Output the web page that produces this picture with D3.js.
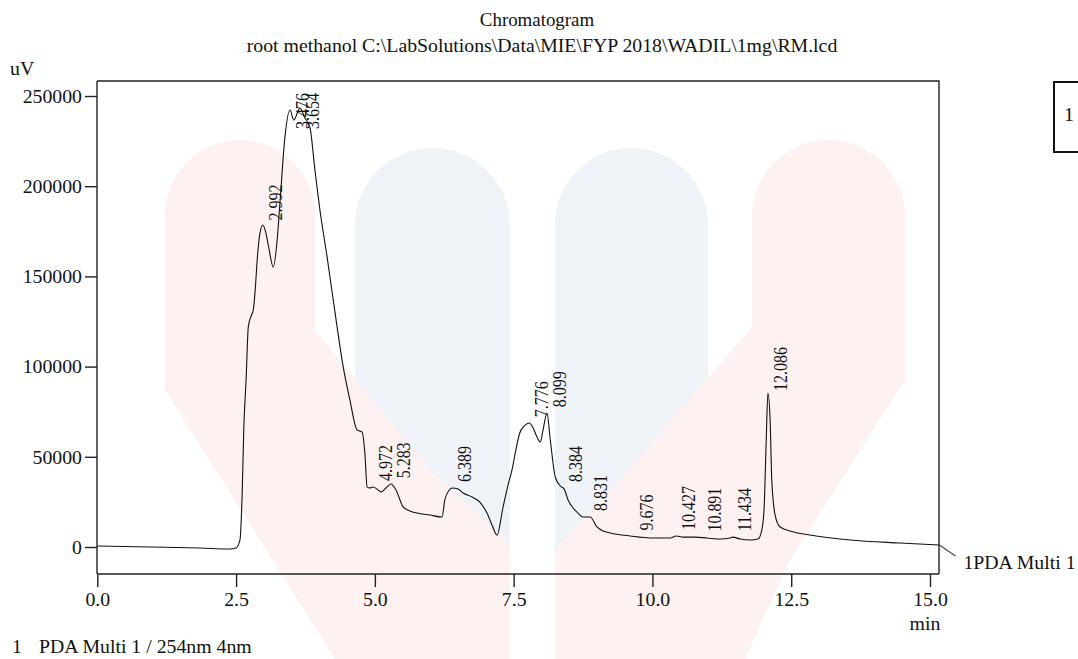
<!DOCTYPE html>
<html>
<head>
<meta charset="utf-8">
<script src="https://cdn.jsdelivr.net/npm/d3@7"></script>
<style>
  html, body { margin: 0; padding: 0; background: #fff; }
  svg { display: block; }
  text { font-family: "Liberation Serif", "Times New Roman", serif; fill: #111; }
</style>
</head>
<body>
<svg id="chart" width="1078" height="659"></svg>
<script>
// ---- data ----
const titleLines = ["Chromatogram", "root methanol C:\\LabSolutions\\Data\\MIE\\FYP 2018\\WADIL\\1mg\\RM.lcd"];
const yUnit = "uV";
const xUnit = "min";
const traceName = "1PDA Multi 1";
const footNote = ["1", "PDA Multi 1 / 254nm 4nm"];

const times = [0, 0.95, 1.85, 2.39, 2.50, 2.57, 2.61, 2.64, 2.68, 2.72, 2.77, 2.81, 2.85, 2.88, 2.93, 2.98, 3.03, 3.08, 3.17,
  3.24, 3.29, 3.38, 3.47, 3.54, 3.65, 3.74, 3.83, 3.92, 4.01, 4.14, 4.25, 4.32, 4.43, 4.55, 4.68, 4.77, 4.82, 4.86, 4.91,
  4.97, 5.04, 5.11, 5.20, 5.29, 5.38, 5.51, 5.63, 5.76, 5.99, 6.21, 6.26, 6.34, 6.39, 6.50, 6.59, 6.75, 6.89, 7.02, 7.11,
  7.20, 7.31, 7.40, 7.47, 7.54, 7.61, 7.71, 7.78, 7.85, 7.92, 7.98, 8.03, 8.10, 8.16, 8.25, 8.34, 8.41, 8.48, 8.57, 8.66,
  8.75, 8.88, 9.00, 9.11, 9.24, 9.60, 9.96, 10.32, 10.43, 10.55, 10.77, 10.98, 11.22, 11.40, 11.45, 11.58, 11.76, 11.90,
  11.97, 12.01, 12.05, 12.08, 12.12, 12.15, 12.21, 12.30, 12.48, 12.84, 13.56, 14.46, 15.17];
const signal = [550, 0, -550, -1100, -550, 3900, 30000, 66500, 92600, 122000, 128000, 131400, 145000, 159100, 174000, 178500, 175000, 167400, 155200,
  170200, 190700, 227300, 242200, 236700, 243300, 237800, 232800, 209000, 186800, 160700, 136900, 121900, 99800, 81500, 64900, 63700, 52100, 33300, 32700,
  33300, 32100, 30500, 32700, 34900, 31600, 22200, 20000, 18800, 17700, 16600, 26100, 31600, 32700, 32100, 29900, 27700, 24900, 18800, 12200,
  6650, 22200, 34400, 42700, 53800, 63200, 67600, 68700, 66000, 61000, 58200, 64900, 74300, 59300, 38800, 33800, 32100, 26100, 21600, 18800,
  16600, 16600, 11100, 8900, 7800, 6100, 5000, 5000, 6100, 5500, 5500, 5000, 4400, 5000, 5500, 4400, 3900, 4400,
  9400, 20500, 59300, 85400, 70400, 37100, 17700, 11100, 8900, 6650, 3900, 2200, 1100];

const peakLabels = ["2.992", "3.476", "3.654", "4.972", "5.283", "6.389", "7.776", "8.099", "8.384", "8.831",
  "9.676", "10.427", "10.891", "11.434", "12.086"];

const xTickValues = [0, 2.5, 5, 7.5, 10, 12.5, 15];
const yTickValues = [0, 50000, 100000, 150000, 200000, 250000];

// ---- layout ----
const svg = d3.select("#chart");
const plot = { left: 97, right: 939, top: 81, bottom: 574 };
const x = d3.scaleLinear().domain([0, 15]).range([97.3, 930]);
const y = d3.scaleLinear().domain([0, 250000]).range([547, 96]);
const pink = "#fdf1f1", blue = "#eff3f8";

// ---- faint watermark logo ----
const wm = svg.append("g");
function arch(x0, x1, top, bottom) {
  const r = (x1 - x0) / 2, cy = top + r;
  return `M${x0},${bottom} L${x0},${cy} A${r},${r} 0 0 1 ${x1},${cy} L${x1},${bottom} Z`;
}
wm.append("path").attr("d", arch(355, 510, 148, 659)).attr("fill", blue);
wm.append("path").attr("d", arch(555, 708, 148, 659)).attr("fill", blue);
wm.append("path").attr("d", arch(165, 315, 140, 360) + " M165,340 L315,330 L430,470 L510,545 L510,659 L335,659 L165,390 Z").attr("fill", pink);
wm.append("path").attr("d", arch(752, 905, 140, 380) + " M752,327 L905,360 L905,380 L790,560 L745,659 L555,659 L555,550 L620,480 Z").attr("fill", pink);

// ---- title ----
svg.append("text").attr("transform", "translate(537,26) scale(1.05,1)").attr("text-anchor", "middle")
  .style("font-size", "18px").text(titleLines[0]);
svg.append("text").attr("transform", "translate(542,52) scale(1.1,1)").attr("text-anchor", "middle")
  .style("font-size", "18px").text(titleLines[1]);

// ---- frame ----
svg.append("path").attr("d", `M${plot.left},${plot.top} H${plot.right} V${plot.bottom}`)
  .attr("fill", "none").attr("stroke", "#222").attr("stroke-width", 1.4);

// ---- axes ----
const gx = svg.append("g").attr("transform", `translate(0,${plot.bottom})`);
gx.call(d3.axisBottom(x).tickValues(d3.range(0, 15.01, 0.5)).tickSize(7).tickFormat(""));
gx.call(d3.axisBottom(x).tickValues(xTickValues).tickSize(13).tickFormat(d3.format(".1f")).tickSizeOuter(0));
gx.select(".domain").attr("d", `M${plot.left},0H${plot.right}`);
gx.selectAll("line,path").attr("stroke", "#222").attr("stroke-width", 1.4);
gx.selectAll("text").attr("y", null).attr("dy", null)
  .attr("transform", "translate(0,32) scale(1.1,1)")
  .style("font-size", "18px").style("font-family", "Liberation Serif").attr("fill", "#111");

const gy = svg.append("g").attr("transform", `translate(${plot.left},0)`);
gy.call(d3.axisLeft(y).tickValues(d3.range(-10000, 250001, 10000)).tickSize(6).tickFormat(""));
gy.call(d3.axisLeft(y).tickValues(yTickValues).tickSize(12).tickFormat(d3.format("d")).tickSizeOuter(0));
gy.select(".domain").attr("d", `M0,${plot.top}V${plot.bottom}`);
gy.selectAll("line,path").attr("stroke", "#222").attr("stroke-width", 1.4);
gy.selectAll("text").attr("x", null).attr("dy", "0.35em")
  .attr("transform", "translate(-15,0) scale(1.1,1)")
  .style("font-size", "18px").style("font-family", "Liberation Serif").attr("fill", "#111");

svg.append("text").attr("transform", "translate(10,75) scale(1.1,1)").style("font-size", "18px").text(yUnit);
svg.append("text").attr("transform", "translate(925,630) scale(1.1,1)").attr("text-anchor", "middle")
  .style("font-size", "18px").text(xUnit);

// ---- trace ----
const data = times.map((t, i) => [t, signal[i]]);
const line = d3.line().x(d => x(d[0])).y(d => y(d[1])).curve(d3.curveMonotoneX);
svg.append("path").datum(data).attr("d", line)
  .attr("fill", "none").attr("stroke", "#111").attr("stroke-width", 1.1);

// ---- peak labels ----
const interp = t => {
  const i = d3.bisector(d => d[0]).left(data, t);
  if (i <= 0) return data[0][1];
  const a = data[i - 1], b = data[i];
  return a[1] + (b[1] - a[1]) * (t - a[0]) / (b[0] - a[0]);
};
const labelLen = 45;
svg.append("g").selectAll("text").data(peakLabels).join("text")
  .attr("transform", d => {
    const t = +d;
    const bx = x(t) + 19;
    const sy = Math.max(plot.top + 3 + labelLen, y(interp(t)) - 6);
    return `translate(${bx},${sy}) scale(1.22,1) rotate(-90)`;
  })
  .style("font-size", "16px").text(d => d);

// ---- trace name at the end ----
const last = data[data.length - 1];
const ex = x(last[0]), ey = y(last[1]);
svg.append("line").attr("x1", ex).attr("y1", ey).attr("x2", ex + 16).attr("y2", ey + 11)
  .attr("stroke", "#444").attr("stroke-width", 1.1);
svg.append("text").attr("transform", `translate(${ex + 24},${ey + 24}) scale(1.1,1)`)
  .style("font-size", "18px").text(traceName);

// ---- legend box at top right (clipped by the page edge) ----
svg.append("rect").attr("x", 1054).attr("y", 82).attr("width", 60).attr("height", 70)
  .attr("fill", "none").attr("stroke", "#111").attr("stroke-width", 2);
svg.append("text").attr("transform", "translate(1064,121) scale(1.1,1)").style("font-size", "18px").text("1");

// ---- footnote ----
svg.append("text").attr("transform", "translate(12,653) scale(1.1,1)").style("font-size", "18px").text(footNote[0]);
svg.append("text").attr("transform", "translate(39,653) scale(1.1,1)").style("font-size", "18px").text(footNote[1]);
</script>
</body>
</html>
